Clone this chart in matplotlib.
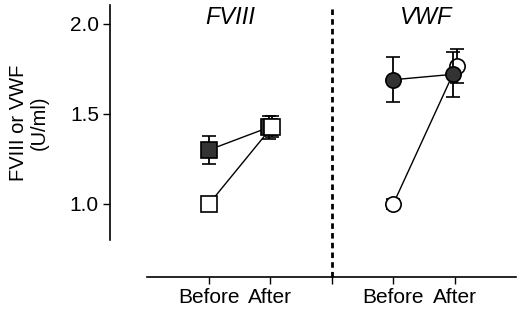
import matplotlib
matplotlib.use("Agg")
import matplotlib.pyplot as plt
from matplotlib.transforms import ScaledTranslation

plt.rcParams['font.family'] = ['Liberation Sans', 'DejaVu Sans']

# x positions: FVIII before/after, VWF before/after
groups = ["FVIII", "VWF"]
x_before = [1, 4]
x_after = [2, 5]
tick_pos = [1, 2, 3, 4, 5]
tick_labels = ["Before", "After", "", "Before", "After"]

# filled series (mean, sem)
filled_before = [1.30, 1.69]
filled_before_err = [0.08, 0.125]
filled_after = [1.425, 1.72]
filled_after_err = [0.065, 0.125]

# open series (mean, sem)
open_before = [1.00, 1.00]
open_before_err = [0.0, 0.03]
open_after = [1.43, 1.765]
open_after_err = [0.06, 0.095]

markers = ["s", "o"]
title_x = [1.35, 4.53]

fig = plt.figure(figsize=(5.2, 3.13), dpi=100)
ax = fig.add_axes([110/520, 1-240/313, 408/520, 235/313])

ebkw = dict(ms=11, mec="black", mew=1.2, ecolor="black",
            elinewidth=1.3, capsize=5, capthick=1.3)

for i, g in enumerate(groups):
    m = markers[i]
    # open on top for FVIII, filled on top for VWF
    z_open, z_fill = (4, 3) if i == 0 else (3, 4)
    ax.plot([x_before[i], x_after[i] + 0.03], [open_before[i], open_after[i]],
            color="black", lw=1, zorder=1)
    ax.plot([x_before[i], x_after[i] - 0.03], [filled_before[i], filled_after[i]],
            color="black", lw=1, zorder=1)
    ax.errorbar([x_before[i]], [open_before[i]], yerr=[open_before_err[i]],
                fmt=m, mfc="white", zorder=3, **ebkw)
    ax.errorbar([x_before[i]], [filled_before[i]], yerr=[filled_before_err[i]],
                fmt=m, mfc="#333333", zorder=3, **ebkw)
    ax.errorbar([x_after[i] - 0.03], [filled_after[i]], yerr=[filled_after_err[i]],
                fmt=m, mfc="#333333", zorder=z_fill, **ebkw)
    ax.errorbar([x_after[i] + 0.03], [open_after[i]], yerr=[open_after_err[i]],
                fmt=m, mfc="white", zorder=z_open, **ebkw)
    ax.text(title_x[i], 2.036, g, style="italic",
            fontsize=17, ha="center", va="center")

ax.axvline(3, color="black", lw=2, ls=(0, (2, 1.5)), clip_on=False,
           ymin=-37/235, ymax=1)

ax.set_xlim(-0.61, 6.03)
ax.set_ylim(0.8, 2.105)
ax.set_yticks([1.0, 1.5, 2.0])
ax.set_yticklabels(["1.0", "1.5", "2.0"])
ax.set_xticks(tick_pos)
ax.set_xticklabels(tick_labels)
ax.tick_params(labelsize=15, width=1, length=5, colors="black", pad=3)
# nudge "After" labels a little to the right, as in the original
shift = ScaledTranslation(4/100, 0, fig.dpi_scale_trans)
for lab in ax.get_xticklabels():
    if lab.get_text() == "After":
        lab.set_transform(lab.get_transform() + shift)
ax.spines["top"].set_visible(False)
ax.spines["right"].set_visible(False)
ax.spines["left"].set_bounds(0.8, 2.105)
ax.spines["bottom"].set_position(("outward", 37 * 72 / 100))
ax.spines["bottom"].set_bounds(0, 6)
for s in ["left", "bottom"]:
    ax.spines[s].set_linewidth(1.2)

ax.set_ylabel("FVIII or VWF\n(U/ml)", fontsize=14.5, labelpad=15, linespacing=1.1)

fig.savefig("out.png", dpi=100)
